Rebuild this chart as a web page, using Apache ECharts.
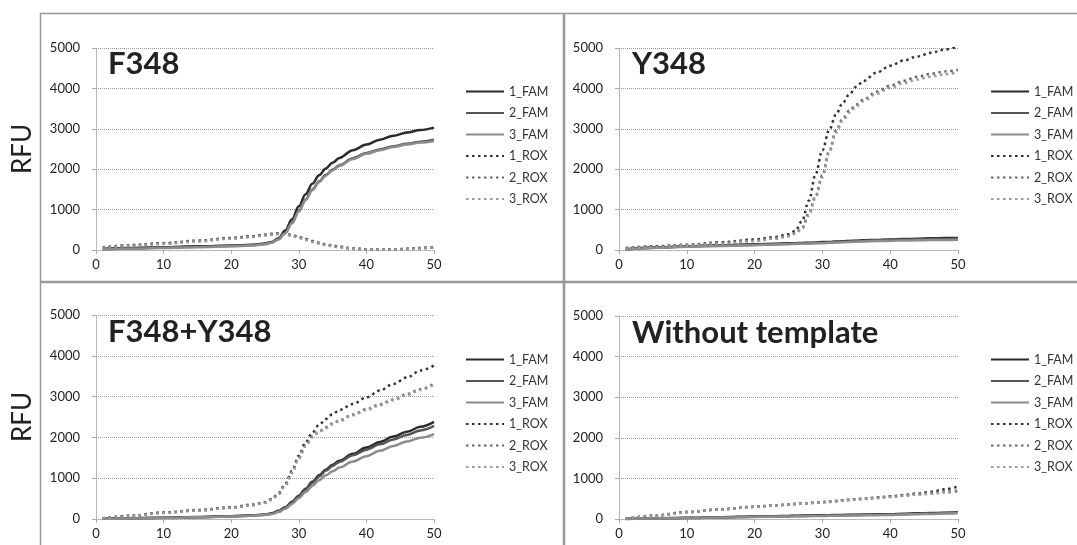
<!DOCTYPE html>
<html lang="en">
<head>
    <meta charset="UTF-8">
    <title>RFU curves</title>
    <script src="https://cdn.jsdelivr.net/npm/echarts@6/dist/echarts.min.js"></script>
    <style>
        html, body { margin: 0; padding: 0; background: #fff; }
    </style>
</head>
<body>
<div id="chartmain" style="width: 1077px; height: 545px;"></div>
<script type="text/javascript">
    var cycles = [1, 5, 10, 15, 20, 23, 25, 26, 27, 28, 29, 30, 31, 32, 33, 34, 35, 36, 38, 40, 42, 44, 46, 48, 50];
    var names = ['1_FAM', '2_FAM', '3_FAM', '1_ROX', '2_ROX', '3_ROX'];
    var titles = ['F348', 'Y348', 'F348+Y348', 'Without template'];
    var yTicks = [0, 1000, 2000, 3000, 4000, 5000];
    var xTicks = [0, 10, 20, 30, 40, 50];

    // F348
    var f348Fam1 = [30, 50, 70, 90, 110, 130, 160, 200, 290, 480, 760, 1080, 1380, 1640, 1850, 2020, 2160, 2280, 2470, 2610, 2730, 2830, 2910, 2970, 3030];
    var f348Fam2 = [20, 40, 60, 80, 100, 120, 150, 190, 270, 430, 680, 970, 1250, 1500, 1700, 1860, 1990, 2100, 2270, 2400, 2490, 2570, 2630, 2680, 2730];
    var f348Fam3 = [10, 30, 50, 70, 90, 110, 140, 180, 260, 420, 660, 950, 1230, 1480, 1680, 1840, 1970, 2080, 2250, 2380, 2470, 2550, 2610, 2660, 2700];
    var f348Rox1 = [60, 120, 170, 230, 300, 340, 380, 400, 410, 400, 370, 320, 270, 220, 180, 140, 110, 80, 40, 20, 15, 20, 30, 50, 70];
    var f348Rox2 = [50, 110, 160, 220, 290, 330, 370, 390, 400, 390, 360, 310, 260, 210, 170, 130, 100, 70, 35, 15, 10, 15, 25, 45, 65];
    var f348Rox3 = [40, 100, 150, 210, 280, 320, 360, 380, 390, 380, 350, 300, 250, 200, 160, 120, 90, 60, 30, 10, 10, 10, 20, 40, 60];

    // Y348
    var y348Fam1 = [20, 60, 90, 115, 140, 155, 165, 170, 175, 180, 185, 195, 200, 210, 215, 225, 230, 240, 250, 260, 270, 280, 290, 295, 300];
    var y348Fam2 = [15, 55, 85, 110, 130, 145, 155, 160, 165, 170, 175, 185, 190, 200, 205, 210, 220, 225, 240, 250, 255, 265, 270, 275, 280];
    var y348Fam3 = [10, 50, 80, 100, 120, 135, 145, 150, 155, 160, 165, 170, 180, 185, 190, 200, 205, 210, 220, 230, 235, 240, 245, 250, 255];
    var y348Rox1 = [50, 90, 130, 190, 260, 320, 390, 470, 720, 1220, 1880, 2470, 2970, 3350, 3640, 3860, 4040, 4180, 4390, 4560, 4690, 4790, 4880, 4960, 5040];
    var y348Rox2 = [40, 80, 120, 170, 230, 290, 350, 410, 550, 900, 1350, 1850, 2450, 2950, 3250, 3450, 3600, 3720, 3920, 4070, 4190, 4290, 4360, 4420, 4460];
    var y348Rox3 = [30, 70, 110, 160, 220, 280, 340, 400, 530, 850, 1300, 1800, 2400, 2900, 3200, 3400, 3560, 3680, 3870, 4010, 4130, 4220, 4290, 4350, 4400];

    // F348+Y348
    var mixFam1 = [10, 20, 30, 50, 70, 90, 110, 140, 200, 290, 420, 570, 740, 910, 1070, 1210, 1330, 1430, 1600, 1750, 1890, 2020, 2140, 2260, 2380];
    var mixFam2 = [10, 20, 30, 45, 65, 85, 105, 130, 190, 280, 400, 550, 720, 880, 1040, 1180, 1300, 1400, 1560, 1700, 1830, 1950, 2060, 2170, 2280];
    var mixFam3 = [5, 15, 25, 40, 60, 80, 100, 120, 170, 250, 370, 510, 660, 810, 950, 1070, 1170, 1260, 1410, 1540, 1670, 1790, 1900, 1990, 2080];
    var mixRox1 = [10, 80, 160, 220, 285, 350, 410, 490, 630, 860, 1180, 1550, 1880, 2120, 2310, 2450, 2570, 2670, 2820, 2980, 3150, 3310, 3470, 3640, 3760];
    var mixRox2 = [10, 75, 150, 210, 275, 340, 400, 480, 610, 830, 1150, 1500, 1800, 2020, 2150, 2250, 2340, 2420, 2560, 2690, 2810, 2930, 3060, 3180, 3320];
    var mixRox3 = [5, 70, 145, 205, 270, 335, 395, 470, 600, 820, 1130, 1480, 1780, 2000, 2130, 2230, 2320, 2400, 2540, 2670, 2790, 2910, 3040, 3160, 3300];

    // Without template
    var ntFam1 = [0, 15, 30, 45, 60, 70, 75, 80, 85, 85, 90, 90, 95, 100, 100, 105, 105, 110, 115, 120, 130, 140, 145, 155, 165];
    var ntFam2 = [0, 12, 25, 40, 55, 65, 70, 72, 75, 78, 80, 82, 85, 90, 92, 95, 98, 100, 105, 110, 120, 130, 135, 145, 155];
    var ntFam3 = [0, 10, 22, 35, 50, 58, 62, 65, 68, 70, 72, 75, 78, 80, 82, 85, 88, 90, 95, 100, 110, 120, 125, 135, 145];
    var ntRox1 = [0, 80, 170, 240, 300, 335, 360, 370, 380, 390, 405, 420, 430, 445, 460, 475, 490, 500, 530, 560, 590, 630, 670, 730, 800];
    var ntRox2 = [0, 80, 170, 240, 300, 335, 360, 370, 380, 390, 405, 415, 425, 440, 455, 470, 485, 495, 520, 550, 580, 610, 640, 670, 700];
    var ntRox3 = [0, 75, 165, 235, 295, 330, 355, 365, 375, 385, 400, 410, 420, 435, 450, 465, 480, 490, 515, 540, 570, 600, 620, 650, 670];

    var panels = [
        [f348Fam1, f348Fam2, f348Fam3, f348Rox1, f348Rox2, f348Rox3],
        [y348Fam1, y348Fam2, y348Fam3, y348Rox1, y348Rox2, y348Rox3],
        [mixFam1, mixFam2, mixFam3, mixRox1, mixRox2, mixRox3],
        [ntFam1, ntFam2, ntFam3, ntRox1, ntRox2, ntRox3]
    ];

    var FONT = 'Lato';
    var grids = [
        {left: 96, top: 48, width: 338, height: 202},
        {left: 619, top: 48, width: 339, height: 202},
        {left: 96, top: 315, width: 338, height: 204},
        {left: 619, top: 316, width: 339, height: 203}
    ];
    var legendPos = [[465, 85], [990, 85], [465, 353], [990, 353]];
    var titlePos = [[108, 48], [632, 48], [108, 316], [632, 317]];
    var colors = ['#2b2b2b', '#555555', '#8c8c8c', '#333333', '#666666', '#9a9a9a'];

    function pairs(vals) {
        var out = [];
        for (var i = 0; i < cycles.length; i++) {
            out.push([cycles[i], vals[i]]);
        }
        return out;
    }

    var myChart = echarts.init(document.getElementById('chartmain'), null, {renderer: 'canvas'});

    var option = {
        animation: false,
        backgroundColor: '#fff',
        title: [],
        legend: [],
        grid: [],
        xAxis: [],
        yAxis: [],
        series: [],
        graphic: [
            {type: 'line', shape: {x1: 40, y1: 13.5, x2: 1077, y2: 13.5}, style: {stroke: '#999', lineWidth: 1.5}},
            {type: 'line', shape: {x1: 40.5, y1: 13, x2: 40.5, y2: 545}, style: {stroke: '#999', lineWidth: 1.5}},
            {type: 'line', shape: {x1: 564, y1: 13, x2: 564, y2: 545}, style: {stroke: '#999', lineWidth: 2.5}},
            {type: 'line', shape: {x1: 40, y1: 282, x2: 1077, y2: 282}, style: {stroke: '#999', lineWidth: 2.5}}
        ]
    };

    for (var p = 0; p < 4; p++) {
        option.grid.push(grids[p]);
        option.title.push({
            text: titles[p],
            left: titlePos[p][0],
            top: titlePos[p][1],
            padding: 0,
            textStyle: {fontFamily: FONT, fontSize: 31, fontWeight: 'bold', color: '#222'}
        });
        option.legend.push({
            orient: 'vertical',
            left: legendPos[p][0],
            top: legendPos[p][1],
            padding: 0,
            itemWidth: 38,
            itemHeight: 14,
            itemGap: 8.5,
            data: names,
            itemStyle: {opacity: 0},
            textStyle: {fontFamily: FONT, fontSize: 12.5, color: '#333'}
        });
        option.xAxis.push({
            type: 'value',
            gridIndex: p,
            min: xTicks[0],
            max: xTicks[xTicks.length - 1],
            interval: 10,
            axisLine: {show: true, onZero: false, lineStyle: {color: '#aaa', type: 'dotted', width: 1}},
            axisTick: {show: true, length: 4, lineStyle: {color: '#aaa'}},
            splitLine: {show: false},
            axisLabel: {margin: 8, fontFamily: FONT, fontSize: 13, color: '#222'}
        });
        option.yAxis.push({
            type: 'value',
            gridIndex: p,
            min: yTicks[0],
            max: yTicks[yTicks.length - 1],
            interval: 1000,
            name: (p % 2 === 0) ? 'RFU' : '',
            nameLocation: 'middle',
            nameGap: 60,
            nameTextStyle: {fontFamily: FONT, fontSize: 26, color: '#222'},
            axisLine: {show: true, lineStyle: {color: '#aaa', type: 'dotted', width: 1}},
            axisTick: {show: true, length: 4, lineStyle: {color: '#aaa'}},
            splitLine: {show: true, lineStyle: {color: '#999', type: 'dotted', width: 1}},
            axisLabel: {
                margin: 16, fontFamily: FONT, fontSize: 13, color: '#222',
                formatter: function (v) { return String(v); }
            }
        });
        for (var s = 0; s < names.length; s++) {
            var rox = s >= 3;
            option.series.push({
                name: names[s],
                type: 'line',
                xAxisIndex: p,
                yAxisIndex: p,
                data: pairs(panels[p][s]),
                showSymbol: false,
                symbol: 'none',
                smooth: 0.35,
                smoothMonotone: 'x',
                color: colors[s],
                lineStyle: rox
                    ? {color: colors[s], width: 2.5, type: [2.5, 3.5]}
                    : {color: colors[s], width: 2.5, type: 'solid'},
                z: rox ? 3 : 2
            });
        }
    }

    myChart.setOption(option);
</script>
</body>
</html>
